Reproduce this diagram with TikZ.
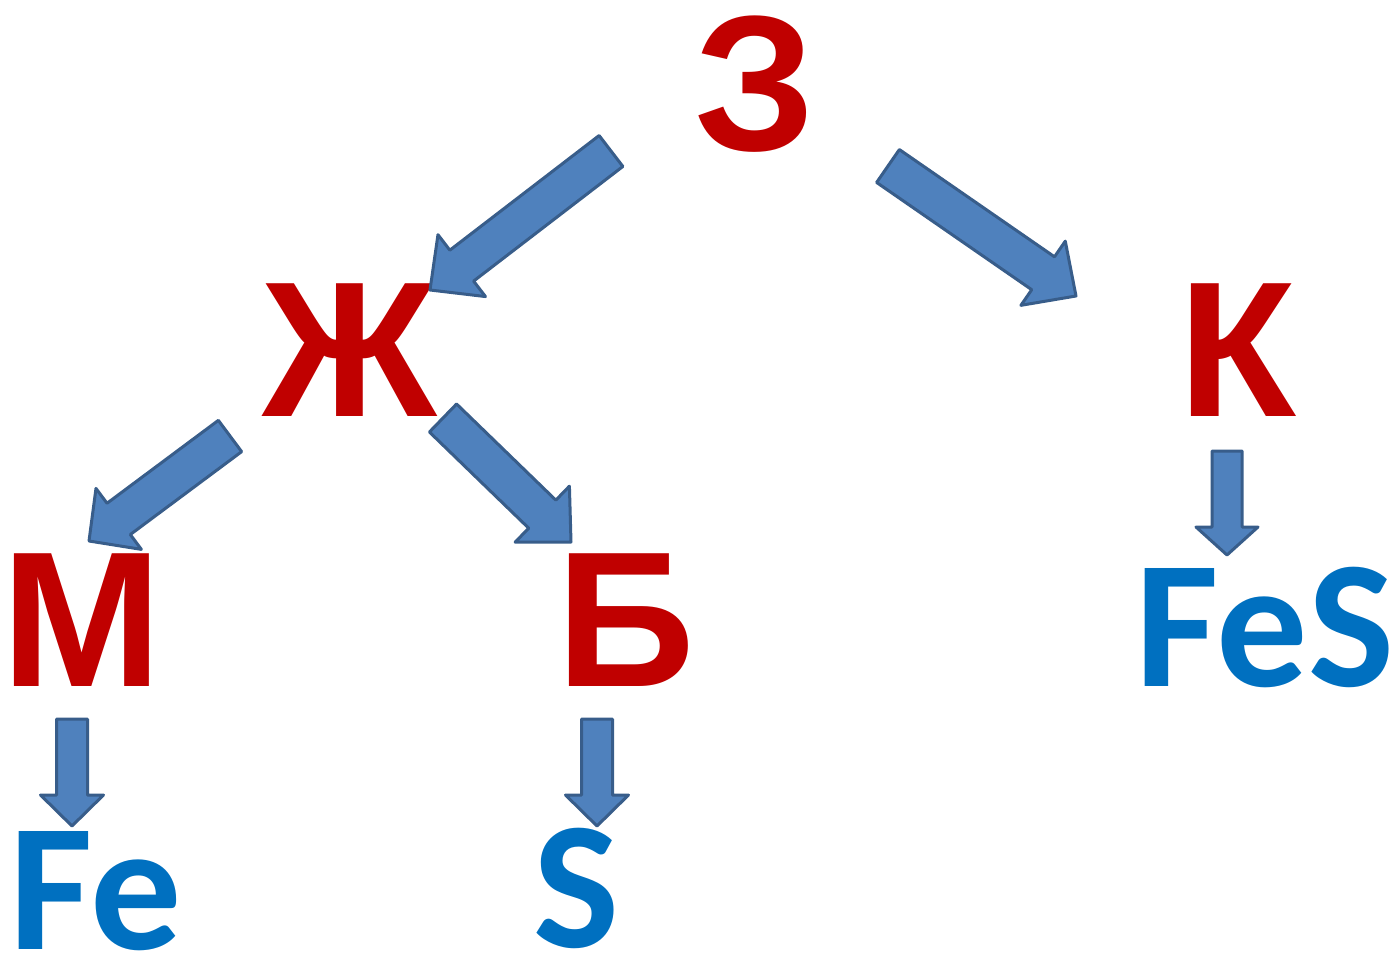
\documentclass[tikz,border=0pt]{standalone}
\usepackage{fontspec}
\usetikzlibrary{calc}
\newfontfamily\redfont{Liberation Sans}
\newfontfamily\bluefont{Carlito}
\definecolor{letred}{HTML}{C00000}
\definecolor{letblue}{HTML}{0070C0}
\definecolor{arrfill}{HTML}{4F81BD}
\definecolor{arrline}{HTML}{385D8A}
\newcommand\blkarrow[5]{%
  \path (#1) coordinate (bT) (#2) coordinate (bP);
  \coordinate (bH) at ($(bP)!#5!(bT)$);
  \draw[blockarr] ($(bT)!#3!90:(bP)$) -- ($(bH)!#3!90:(bP)$) -- ($(bH)!#4!90:(bP)$)
    -- (bP) -- ($(bH)!#4!-90:(bP)$) -- ($(bH)!#3!-90:(bP)$) -- ($(bT)!#3!-90:(bP)$) -- cycle;
}
\begin{document}
\begin{tikzpicture}[x=1pt,y=-1pt,
  redletter/.style={text=letred,font=\redfont\bfseries\fontsize{193}{200}\selectfont,anchor=base,inner sep=0pt,text height=138pt,text depth=0pt},
  blueletter/.style={text=letblue,font=\bluefont\bfseries\fontsize{182}{190}\selectfont,anchor=base,inner sep=0pt,text height=118pt,text depth=0pt},
  blockarr/.style={fill=arrfill,draw=arrline,line width=3pt,line join=round}]
\useasboundingbox (0,0) rectangle (1398,961);
\node[redletter] (z) at (755,150) {З};
\node[redletter] (zh) at (350,416) {Ж};
\node[redletter] (k) at (1237,416) {К};
\node[redletter] (m) at (82,686) {М};
\node[redletter] (b) at (626,686) {Б};
\node[blueletter] (fe) at (96,949) {Fe};
\node[blueletter] (s) at (577,947) {S};
\node[blueletter] (fes) at (1265,686) {FeS};
\coordinate (a1t) at (611,151); \coordinate (a1p) at (430,290);
\coordinate (a2t) at (888,166); \coordinate (a2p) at (1076,296);
\coordinate (a3t) at (230,436); \coordinate (a3p) at (89,541);
\coordinate (a4t) at (443,418); \coordinate (a4p) at (571,542);
\coordinate (v1t) at (1227,451); \coordinate (v1p) at (1227,555);
\coordinate (v2t) at (72,719); \coordinate (v2p) at (72,826);
\coordinate (v3t) at (597,719); \coordinate (v3p) at (597,826);
\blkarrow{a1t}{a1p}{19.5pt}{39pt}{40pt}
\blkarrow{a2t}{a2p}{20pt}{39pt}{40pt}
\blkarrow{a3t}{a3p}{19.5pt}{38pt}{37pt}
\blkarrow{a4t}{a4p}{19.5pt}{39pt}{40pt}
\blkarrow{v1t}{v1p}{15pt}{31pt}{28pt}
\blkarrow{v2t}{v2p}{15.5pt}{31.5pt}{31pt}
\blkarrow{v3t}{v3p}{15.5pt}{31.5pt}{31pt}
\end{tikzpicture}
\end{document}
